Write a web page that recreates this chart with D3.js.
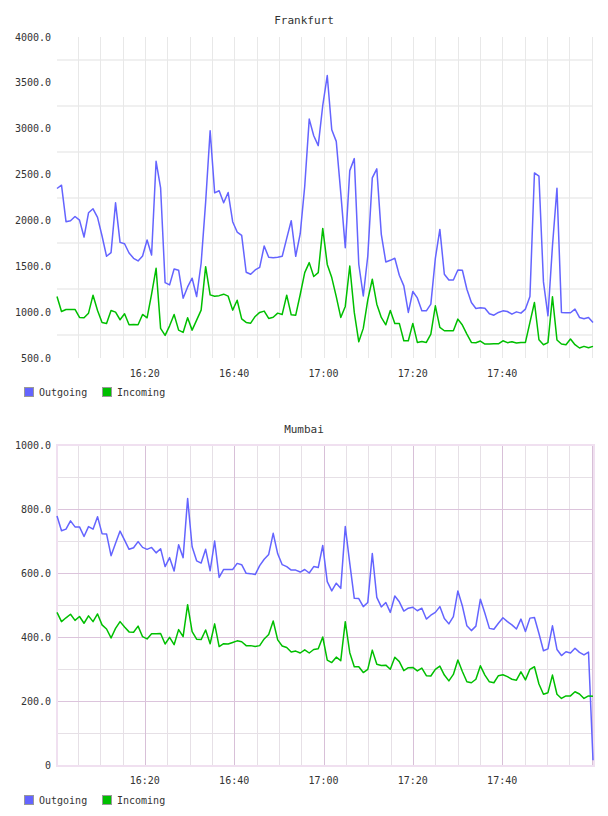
<!DOCTYPE html>
<html>
<head>
<meta charset="utf-8">
<script src="https://cdn.jsdelivr.net/npm/d3@7"></script>
<style>
body { margin: 0; background: #fff; }
text { font-family: "DejaVu Sans Mono", monospace; font-size: 10px; fill: #333; }
</style>
</head>
<body>
<svg id="chart" width="608" height="816"></svg>
<script>
// sample window (one sample per minute or so)
const startTime = "16:00:20";
const endTime = "18:00:20";
const seriesNames = ["Outgoing", "Incoming"];

const frankfurtOut = [2348, 2384, 1986, 1997, 2043, 2003, 1819, 2083, 2127, 2033,
    1830, 1609, 1649, 2192, 1761, 1746, 1645, 1587, 1558, 1612,
    1786, 1623, 2645, 2355, 1322, 1297, 1471, 1457, 1152, 1275,
    1370, 1170, 1533, 2200, 2978, 2301, 2323, 2192, 2304, 1986,
    1873, 1837, 1435, 1413, 1460, 1489, 1721, 1598, 1594, 1598,
    1609, 1804, 1997, 1609, 1855, 2373, 3105, 2924, 2815, 3253,
    3580, 2989, 2862, 2300, 1703, 2543, 2674, 1522, 1177, 1612,
    2464, 2562, 1848, 1547, 1565, 1587, 1402, 1286, 997, 1225,
    1155, 1014, 1014, 1087, 1587, 1902, 1413, 1351, 1351, 1460,
    1457, 1250, 1105, 1040, 1047, 1043, 982, 967, 997, 1014,
    1007, 978, 1003, 989, 1033, 1170, 2518, 2482, 1330, 960,
    1721, 2351, 997, 993, 993, 1033, 942, 928, 942, 888];

const frankfurtIn = [1170, 1007, 1029, 1029, 1029, 942, 938, 989, 1185, 1018,
    888, 877, 1018, 1000, 917, 982, 862, 865, 862, 975,
    938, 1196, 1478, 823, 746, 851, 975, 804, 779, 938,
    804, 913, 1022, 1496, 1188, 1174, 1180, 1196, 1174, 1022,
    1130, 927, 888, 880, 953, 997, 1011, 931, 945, 989,
    975, 1185, 971, 967, 1192, 1431, 1540, 1388, 1431, 1913,
    1520, 1377, 1170, 942, 1062, 1503, 997, 677, 823, 1134,
    1359, 1087, 942, 862, 1018, 877, 877, 688, 688, 877,
    670, 681, 670, 761, 1069, 833, 797, 797, 797, 924,
    859, 761, 670, 667, 685, 652, 652, 655, 655, 688,
    667, 677, 663, 670, 670, 888, 1105, 699, 645, 667,
    1167, 696, 652, 645, 707, 645, 609, 627, 612, 627];

const mumbaiOut = [778, 732, 737, 763, 744, 744, 714, 745, 737, 776,
    723, 722, 654, 693, 731, 703, 674, 679, 698, 680,
    674, 680, 663, 676, 620, 648, 606, 688, 648, 833,
    682, 638, 631, 674, 607, 700, 586, 611, 611, 611,
    630, 626, 599, 598, 595, 623, 643, 658, 724, 660,
    626, 620, 609, 609, 603, 611, 600, 620, 617, 686,
    573, 544, 568, 552, 745, 630, 521, 520, 495, 508,
    661, 524, 494, 508, 477, 528, 510, 481, 490, 493,
    482, 490, 456, 468, 477, 495, 458, 441, 464, 544,
    497, 435, 420, 434, 518, 474, 427, 424, 443, 460,
    448, 438, 425, 456, 417, 459, 461, 411, 357, 363,
    435, 361, 342, 354, 350, 365, 352, 344, 353, 15];

const mumbaiIn = [477, 448, 460, 471, 452, 464, 443, 466, 448, 472,
    438, 425, 397, 427, 448, 431, 416, 415, 434, 401,
    394, 410, 410, 411, 378, 399, 376, 423, 401, 501,
    417, 393, 392, 422, 379, 441, 370, 379, 378, 383,
    388, 385, 373, 373, 370, 373, 394, 408, 450, 391,
    372, 367, 353, 356, 350, 360, 350, 361, 363, 400,
    328, 320, 337, 326, 448, 351, 307, 307, 289, 299,
    359, 315, 311, 312, 299, 337, 323, 295, 304, 305,
    294, 303, 279, 278, 299, 309, 281, 263, 283, 328,
    292, 260, 257, 268, 310, 281, 260, 257, 279, 282,
    276, 268, 265, 291, 266, 299, 307, 253, 221, 226,
    281, 221, 208, 216, 216, 229, 222, 208, 216, 215];

const frankfurtTicks = [500, 1000, 1500, 2000, 2500, 3000, 3500, 4000];
const frankfurtGrid = [750, 1250, 1750, 2250, 2750, 3250, 3750];
const mumbaiTicks = [0, 200, 400, 600, 800, 1000];
const mumbaiGrid = [100, 300, 500, 700, 900];

const colors = ["#6464ff", "#00bf00"];

const svg = d3.select("#chart");
const parse = d3.timeParse("%Y-%m-%d %H:%M:%S");
const t0 = parse("2013-01-01 " + startTime);
const t1 = parse("2013-01-01 " + endTime);

function drawChart(opt) {
    const g = svg.append("g");
    const left = 57, right = 593;

    const x = d3.scaleTime().domain([t0, t1]).range([left, right]);
    const y = d3.scaleLinear().domain(opt.domain).range([opt.bottom, opt.top]);

    const n = opt.series[0].length;
    const step = (t1 - t0) / (n - 1);
    const timeOf = i => new Date(t0.getTime() + i * step);

    const minorTimes = d3.timeMinute.every(5).range(t0, t1);
    const majorTimes = d3.timeMinute.every(20).range(t0, t1).filter(d => d.getHours() < 18);

    if (opt.framed) {
        g.selectAll(".hminor").data(opt.grid).enter().append("line")
            .attr("x1", left).attr("x2", right)
            .attr("y1", d => Math.round(y(d)) + 0.5).attr("y2", d => Math.round(y(d)) + 0.5)
            .attr("stroke", "#e6e0e6");
        g.selectAll(".vminor").data(minorTimes).enter().append("line")
            .attr("x1", d => Math.round(x(d)) + 0.5).attr("x2", d => Math.round(x(d)) + 0.5)
            .attr("y1", opt.top).attr("y2", opt.bottom)
            .attr("stroke", d => d.getMinutes() % 20 == 0 ? "#d8c0d8" : "#e6e0e6");
        g.selectAll(".hmajor").data(opt.ticks).enter().append("line")
            .attr("x1", left).attr("x2", right)
            .attr("y1", d => Math.round(y(d)) + 0.5).attr("y2", d => Math.round(y(d)) + 0.5)
            .attr("stroke", "#dcc4dc");
        g.append("rect")
            .attr("x", left).attr("y", opt.top)
            .attr("width", right - left + 1).attr("height", opt.bottom - opt.top + 1)
            .attr("fill", "none").attr("stroke", "#f0e0f0").attr("stroke-width", 2);
    } else {
        g.selectAll(".hgrid").data(opt.grid).enter().append("line")
            .attr("x1", left).attr("x2", right)
            .attr("y1", d => Math.round(y(d))).attr("y2", d => Math.round(y(d)))
            .attr("stroke", "#f0f0f0").attr("stroke-width", 2);
        g.selectAll(".vgrid").data(minorTimes).enter().append("line")
            .attr("x1", d => Math.round(x(d)) + 0.5).attr("x2", d => Math.round(x(d)) + 0.5)
            .attr("y1", opt.top).attr("y2", opt.bottom)
            .attr("stroke", "#e8e8e8");
    }

    // y labels
    g.selectAll(".ylab").data(opt.ticks).enter().append("text")
        .attr("x", 51).attr("y", d => y(d))
        .attr("text-anchor", "end").attr("dominant-baseline", "central")
        .text(d => d == 0 ? "0" : d3.format(".1f")(d));

    // x labels
    g.selectAll(".xlab").data(majorTimes).enter().append("text")
        .attr("x", d => x(d)).attr("y", opt.bottom + 15)
        .attr("text-anchor", "middle").attr("dominant-baseline", "central")
        .text(d3.timeFormat("%H:%M"));

    g.append("text")
        .attr("x", 304).attr("y", opt.titleY)
        .attr("text-anchor", "middle").attr("dominant-baseline", "central")
        .style("font-size", "11px")
        .text(opt.title);

    const line = d3.line()
        .x((d, i) => x(timeOf(i)))
        .y(d => y(d));

    opt.series.forEach((s, k) => {
        g.append("path").datum(s)
            .attr("d", line)
            .attr("fill", "none")
            .attr("stroke", colors[k])
            .attr("stroke-width", 1.5)
            .attr("stroke-linejoin", "round");
    });

    // legend
    const legendX = [24, 102];
    seriesNames.forEach((name, k) => {
        g.append("rect")
            .attr("x", legendX[k] + 0.5).attr("y", opt.legendY - 4.5)
            .attr("width", 9).attr("height", 9)
            .attr("fill", colors[k]).attr("stroke", "#999");
        g.append("text")
            .attr("x", legendX[k] + 15).attr("y", opt.legendY)
            .attr("dominant-baseline", "central")
            .text(name);
    });
}

drawChart({
    title: "Frankfurt", titleY: 20,
    top: 37, bottom: 358,
    domain: [500, 4000],
    ticks: frankfurtTicks, grid: frankfurtGrid,
    series: [frankfurtOut, frankfurtIn],
    framed: false, legendY: 392
});

drawChart({
    title: "Mumbai", titleY: 429,
    top: 445, bottom: 765,
    domain: [0, 1000],
    ticks: mumbaiTicks, grid: mumbaiGrid,
    series: [mumbaiOut, mumbaiIn],
    framed: true, legendY: 800
});
</script>
</body>
</html>
